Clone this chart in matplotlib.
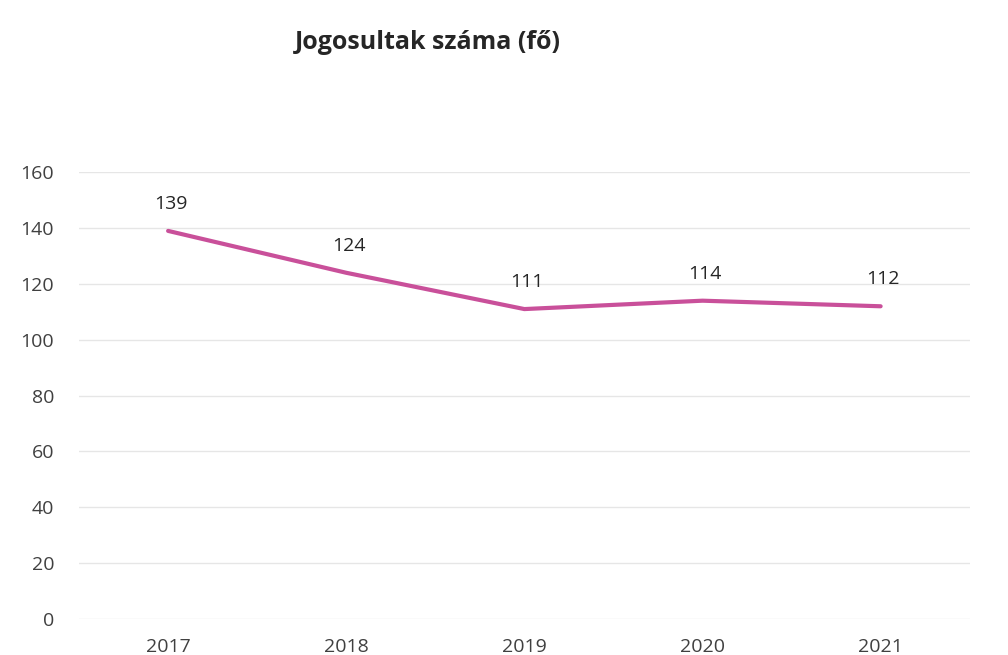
import matplotlib
matplotlib.use('Agg')
import matplotlib.pyplot as plt

# data
years = ['2017', '2018', '2019', '2020', '2021']
jogosultak = [139, 124, 111, 114, 112]
y_ticks = [0, 20, 40, 60, 80, 100, 120, 140, 160]

plt.rcParams['font.family'] = ['Open Sans', 'DejaVu Sans']

fig = plt.figure(figsize=(10.08, 6.55), dpi=100)
ax = fig.add_axes([0.0784, 0.055, 0.8836, 0.682])

x = list(range(len(years)))
ax.plot(x, jogosultak, color='#C9509A', linewidth=3, solid_capstyle='round')

for xi, v in zip(x, jogosultak):
    ax.annotate(str(v), (xi, v), xytext=(2, 13), textcoords='offset points',
                ha='center', va='bottom', fontsize=14, color='#262626')

ax.set_xlim(-0.5, len(years) - 0.5)
ax.set_ylim(0, 160)
ax.set_xticks(x)
ax.set_xticklabels(years)
ax.set_yticks(y_ticks)
ax.tick_params(axis='both', length=0, labelsize=14, labelcolor='#404040')
ax.tick_params(axis='x', pad=14)
ax.tick_params(axis='y', pad=18)
ax.grid(axis='y', color='#E6E6E6', linewidth=1)
ax.set_axisbelow(True)
for s in ax.spines.values():
    s.set_visible(False)

fig.text(0.424, 0.935, 'Jogosultak száma (fő)', ha='center', va='center',
         fontsize=18, fontweight='bold', color='#262626')

fig.savefig('out.png', dpi=100)
